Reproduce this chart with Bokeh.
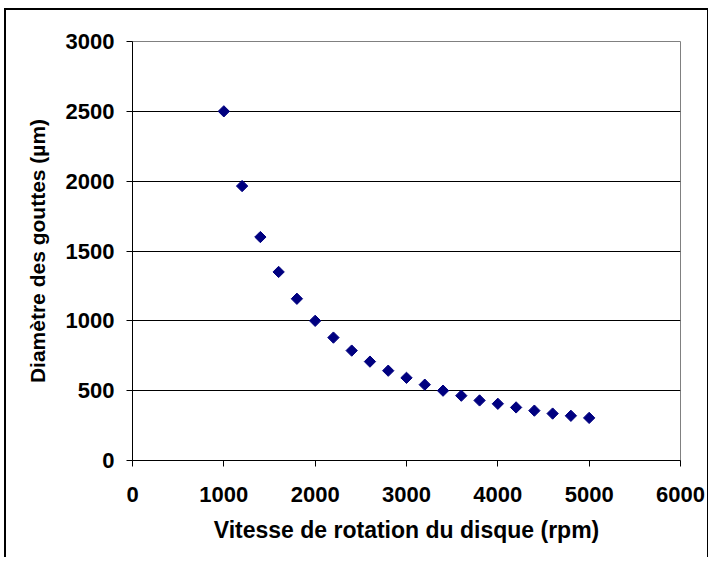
import math
from bokeh.plotting import figure
from bokeh.models import ColumnDataSource, FixedTicker, Range1d
from bokeh.embed import file_html
from bokeh.resources import INLINE

speed_rpm = [1000, 1200, 1400, 1600, 1800, 2000, 2200, 2400, 2600, 2800, 3000,
             3200, 3400, 3600, 3800, 4000, 4200, 4400, 4600, 4800, 5000]
diameter_um = [2500, 1965, 1600, 1350, 1158, 1000, 880, 787, 708, 643, 592,
               543, 500, 464, 430, 406, 380, 357, 336, 320, 305]
x_ticks = [0, 1000, 2000, 3000, 4000, 5000, 6000]
y_ticks = [0, 500, 1000, 1500, 2000, 2500, 3000]

src = ColumnDataSource(data=dict(x=speed_rpm, y=diameter_um))

p = figure(width=704, height=549, output_backend="svg", toolbar_location=None,
           x_range=Range1d(0, 6000), y_range=Range1d(0, 3000),
           min_border_left=126, min_border_top=31, min_border_right=30,
           min_border_bottom=99,
           styles={"margin-left": "4px", "margin-top": "8px",
                   "border-left": "2px solid black", "border-top": "2px solid black",
                   "border-right": "1px solid black"})

p.scatter("x", "y", source=src, marker="square", angle=math.pi / 4, size=8,
          fill_color="#000080", line_color="#000080")

p.outline_line_color = "#808080"
p.outline_line_width = 1
p.background_fill_color = "white"
p.border_fill_color = "white"

p.xgrid.visible = False
p.ygrid.grid_line_color = "black"
p.ygrid.grid_line_width = 1
p.ygrid.ticker = FixedTicker(ticks=y_ticks)

font = "Liberation Sans"
for ax in (p.xaxis[0], p.yaxis[0]):
    ax.axis_line_color = "black"
    ax.major_tick_line_color = "black"
    ax.minor_tick_line_color = None
    ax.major_tick_in = 0
    ax.major_tick_out = 6
    ax.major_label_text_font = font
    ax.major_label_text_font_style = "bold"
    ax.major_label_text_font_size = "22px"
    ax.major_label_text_color = "black"
    ax.axis_label_text_font = font
    ax.axis_label_text_font_style = "bold"
    ax.axis_label_text_color = "black"

p.xaxis.axis_label_text_font_size = "23px"
p.yaxis.axis_label_text_font_size = "21px"
p.xaxis.ticker = FixedTicker(ticks=x_ticks)
p.yaxis.ticker = FixedTicker(ticks=y_ticks)
p.xaxis.axis_label = "Vitesse de rotation du disque (rpm)"
p.yaxis.axis_label = "Diamètre des gouttes (µm)"
p.xaxis.major_label_standoff = 20
p.yaxis.major_label_standoff = 12
p.xaxis.axis_label_standoff = 12
p.yaxis.axis_label_standoff = 14

open("out.html", "w").write(file_html(p, INLINE))
